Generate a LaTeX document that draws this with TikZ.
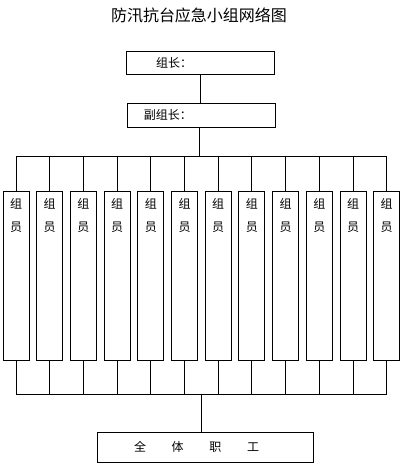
\documentclass[tikz,border=0pt]{standalone}
\usepackage{fontspec}
\newfontfamily\cjk{Noto Sans CJK SC}
\usetikzlibrary{calc}

\begin{document}
\begin{tikzpicture}[x=1pt, y=-1pt, line width=0.9pt, font=\cjk\fontsize{12pt}{23pt}\selectfont]
  \useasboundingbox (0,0) rectangle (404,467);
  \node (title) at (199, 15) {\fontsize{16pt}{18pt}\selectfont 防汛抗台应急小组网络图};

  \node [draw, inner sep=4pt, minimum height=23pt, text width=140pt, align=left] (zz) at (200, 62.5) {\hspace*{26pt}组长：};
  \node [draw, inner sep=4pt, minimum height=24pt, text width=140pt, align=left] (fz) at (201, 115) {\hspace*{13pt}副组长：};
  \draw (zz.south) -- (zz.south |- fz.north);

  \coordinate (bus) at (199, 156);
  \coordinate (hub) at (201, 394);
  \draw (fz.south -| bus) -- (bus);

  \foreach \i in {1,...,12} {
    \node [draw, inner sep=0pt, minimum width=26pt, minimum height=169pt] (m\i) at ({16+33.7*(\i-1)}, 275.5) {};
    \node [align=center, inner sep=0pt] (t\i) at ($(m\i.north)+(0,25)$) {组\\员};
    \draw (m\i.north) -- (m\i.north |- bus);
    \draw (m\i.south) -- (m\i.south |- hub);
  }
  \draw (m1.north |- bus) -- (m12.north |- bus);
  \draw (m1.south |- hub) -- (m12.south |- hub);

  \node [draw, inner sep=4pt, minimum height=30pt, text width=208pt, align=left] (qt) at (205, 447) {\hspace*{33pt}全\hspace{25.7pt}体\hspace{25.7pt}职\hspace{25.7pt}工};
  \draw (hub) -- (hub |- qt.north);
\end{tikzpicture}
\end{document}
